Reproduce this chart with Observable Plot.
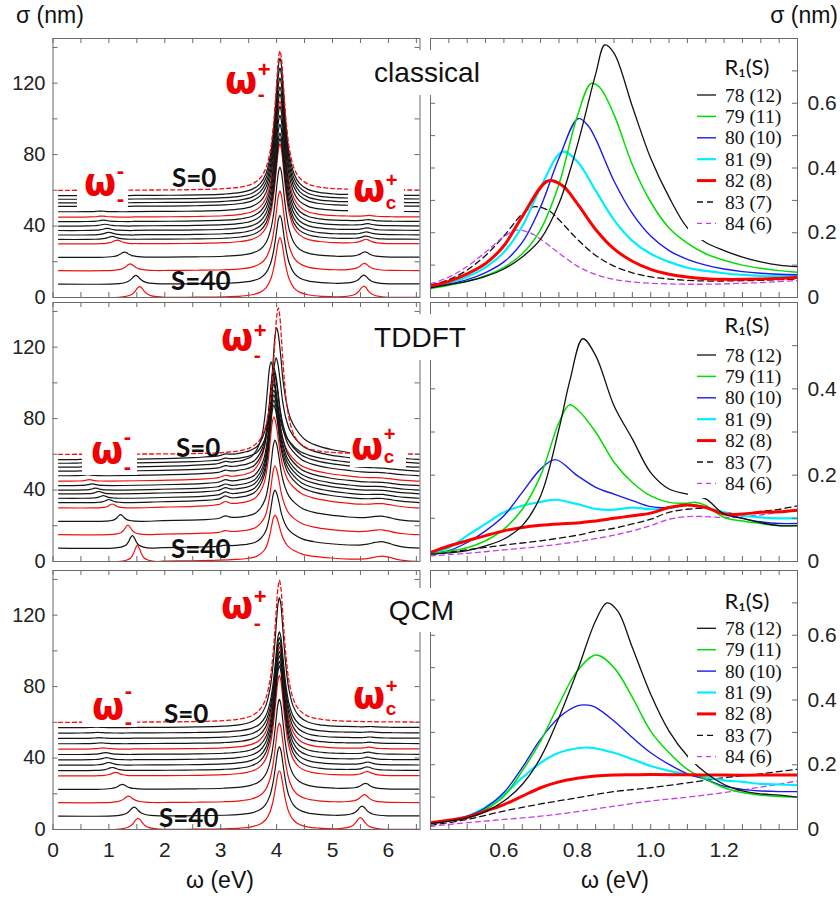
<!DOCTYPE html>
<html><head><meta charset="utf-8">
<script src="https://cdn.jsdelivr.net/npm/d3@7"></script>
<script src="https://cdn.jsdelivr.net/npm/@observablehq/plot@0.6"></script>
<style>
html,body{margin:0;padding:0;background:#fff;}
#wrap{position:relative;width:840px;height:900px;overflow:hidden;background:#fff;}
#overlay{position:absolute;left:0;top:0;z-index:10;}
</style></head><body><div id="wrap"></div>
<script>
// ---------------- DATA ----------------
// Left column: stacked spectra, one entry per curve (top S=0 curve first)
const classicalBase   = [60, 57, 55, 53, 51, 48, 45, 42.5, 40, 37.5, 35, 32.5, 30, 22.5, 15, 7.5, 0];
const classicalColor  = ["dash","k","k","k","k","k","r","k","k","k","k","k","r","k","r","k","r"];
const classicalMainPos = [4.06,4.06,4.06,4.06,4.06,4.06,4.06,4.06,4.06,4.06,4.06,4.06,4.06,4.06,4.06,4.06,4.06];
const classicalMainAmp = [78, 77, 73.5, 70, 67, 66, 65, 64.5, 62, 59.5, 57, 56.5, 56, 50.5, 44.5, 38.5, 33.5];
const classicalLowPos  = [0, 0.8, 0.8, 0.82, 0.84, 0.85, 0.87, 0.9, 0.93, 0.97, 1.0, 1.06, 1.15, 1.28, 1.38, 1.48, 1.55];
const classicalLowAmp  = [0, 0.2, 0.2, 0.3, 0.3, 0.4, 0.6, 0.8, 1.0, 1.2, 1.5, 1.7, 2.1, 2.9, 3.8, 4.8, 6.0];
const classicalHighPos = [0, 5.7, 5.7, 5.68, 5.67, 5.66, 5.65, 5.64, 5.63, 5.62, 5.61, 5.6, 5.6, 5.58, 5.57, 5.56, 5.56];
const classicalHighAmp = [0, 0.2, 0.3, 0.3, 0.4, 0.5, 0.6, 0.8, 1.0, 1.2, 1.4, 1.6, 2.3, 2.8, 3.9, 4.8, 6.2];

const tddftBase   = [60, 57, 55, 52.8, 50.6, 48, 45, 42.5, 40, 37.9, 35.4, 33, 30, 22.5, 15, 7.5, 0];
const tddftColor  = ["dash","k","k","k","k","k","r","k","k","k","k","k","r","k","r","k","r"];
const tddftMainPos = [4.03, 4.0, 3.99, 3.9, 3.95, 3.95, 3.93, 3.95, 3.95, 3.95, 3.95, 3.95, 3.95, 3.97, 3.97, 3.97, 3.97];
const tddftMainAmp = [82, 74, 59, 59, 57.5, 58, 57, 56.8, 56, 55.4, 55, 54.6, 51, 45.5, 38.6, 32.5, 26];
const tddftLowPos  = [0, 0.55, 0.55, 0.58, 0.6, 0.62, 0.65, 0.7, 0.76, 0.82, 0.9, 1.0, 1.06, 1.21, 1.34, 1.42, 1.51];
const tddftLowAmp  = [0, 0.3, 0.3, 0.4, 0.5, 0.6, 0.8, 1.0, 1.1, 1.3, 1.5, 1.7, 2.2, 3.7, 5.4, 7.0, 9.0];
const tddftMidPos  = [0, 3.08, 3.08, 3.08, 3.08, 3.08, 3.08, 3.08, 3.08, 3.08, 3.08, 3.08, 3.08, 3.08, 3.08, 3.08, 0];
const tddftMidAmp  = [0, 0.8, 0.9, 1.0, 1.0, 1.1, 1.2, 1.3, 1.4, 1.5, 1.6, 1.8, 1.8, 1.5, 1.0, 0.5, 0];
const tddftHighPos = [0, 5.92, 5.92, 5.92, 5.92, 5.92, 5.9, 5.9, 5.9, 5.9, 5.9, 5.9, 5.9, 5.88, 5.88, 5.88, 5.9];
const tddftHighAmp = [0, 0.5, 0.6, 0.6, 0.7, 0.7, 0.8, 0.8, 0.9, 1.0, 1.2, 1.3, 1.5, 2.0, 2.0, 3.0, 2.5];

const qcmBase   = [60, 57, 54, 51, 48, 45, 42, 39, 36, 33, 30, 22.5, 15, 7.5, 0];
const qcmColor  = ["dash","k","k","k","k","r","k","k","k","k","r","k","r","k","r"];
const qcmMainPos = [4.05,4.05,4.05,4.05,4.05,4.05,4.05,4.05,4.05,4.05,4.05,4.05,4.05,4.05,4.05];
const qcmMainAmp = [79.5, 72.8, 56.7, 56.5, 56.7, 57.2, 57.8, 58.2, 58.2, 58.6, 56.3, 50.3, 44.6, 38.9, 32.9];
const qcmLowPos  = [0, 0.78, 0.8, 0.83, 0.86, 0.9, 0.94, 0.96, 1.0, 1.06, 1.12, 1.24, 1.35, 1.45, 1.52];
const qcmLowAmp  = [0, 0.3, 0.35, 0.4, 0.5, 0.7, 1.0, 1.2, 1.5, 1.7, 2.0, 2.8, 3.7, 5.0, 6.2];
const qcmHighPos = [0, 5.68, 5.68, 5.67, 5.66, 5.65, 5.64, 5.63, 5.63, 5.62, 5.62, 5.59, 5.57, 5.53, 5.5];
const qcmHighAmp = [0, 0.3, 0.4, 0.5, 0.6, 0.8, 1.0, 1.2, 1.5, 1.8, 2.2, 3.1, 4.3, 5.4, 6.5];

// Peak shapes: [offset from peak centre (eV), fraction of peak height]
const sharpPeakShape = [[-2.6,0.0018],[-2.0,0.003],[-1.5,0.0055],[-1.0,0.012],[-0.7,0.024],[-0.5,0.046],[-0.35,0.09],[-0.25,0.162],[-0.17,0.295],[-0.12,0.457],[-0.08,0.654],[-0.05,0.829],[-0.025,0.951],[0,1],[0.025,0.951],[0.05,0.829],[0.08,0.654],[0.12,0.457],[0.17,0.295],[0.25,0.162],[0.35,0.09],[0.5,0.046],[0.7,0.024],[1.0,0.012],[1.5,0.0055],[2.0,0.003],[2.6,0.0018]];
const broadPeakShape = [[-2.0,0.008],[-1.5,0.015],[-1.0,0.028],[-0.7,0.045],[-0.5,0.065],[-0.35,0.1],[-0.25,0.17],[-0.17,0.28],[-0.11,0.48],[-0.06,0.76],[-0.03,0.93],[0,1],[0.03,0.95],[0.07,0.8],[0.12,0.58],[0.18,0.42],[0.25,0.31],[0.35,0.23],[0.5,0.155],[0.7,0.11],[1.0,0.075],[1.5,0.04],[2.0,0.015],[2.6,0]];
const bumpShape = [[-0.45,0],[-0.3,0.06],[-0.2,0.16],[-0.13,0.33],[-0.08,0.58],[-0.04,0.86],[0,1],[0.04,0.86],[0.08,0.58],[0.13,0.33],[0.2,0.16],[0.3,0.06],[0.45,0]];
const narrowBumpShape = [[-0.35,0],[-0.2,0.08],[-0.12,0.22],[-0.07,0.5],[-0.035,0.82],[0,1],[0.035,0.82],[0.07,0.5],[0.12,0.22],[0.2,0.08],[0.35,0]];
const wideBumpShape = [[-0.6,0],[-0.4,0.12],[-0.25,0.38],[-0.12,0.78],[0,1],[0.12,0.78],[0.25,0.38],[0.4,0.12],[0.6,0]];

// Right column: sigma (nm) vs omega (eV) for R1 = 78..84
const seriesNames = ["78 (12)","79 (11)","80 (10)","81 (9)","82 (8)","83 (7)","84 (6)"];
const cl78 = [[0.40,0.03],[0.45,0.04],[0.50,0.05],[0.55,0.065],[0.60,0.088],[0.65,0.125],[0.70,0.18],[0.75,0.29],[0.80,0.47],[0.85,0.69],[0.875,0.78],[0.90,0.755],[0.95,0.59],[1.00,0.43],[1.05,0.31],[1.10,0.215],[1.15,0.17],[1.20,0.145],[1.25,0.125],[1.30,0.11],[1.35,0.10],[1.40,0.095]];
const cl79 = [[0.40,0.028],[0.45,0.038],[0.50,0.05],[0.55,0.067],[0.60,0.093],[0.65,0.135],[0.70,0.21],[0.75,0.35],[0.80,0.56],[0.8375,0.661],[0.86,0.65],[0.90,0.565],[0.95,0.41],[1.00,0.295],[1.05,0.215],[1.10,0.168],[1.15,0.135],[1.20,0.115],[1.25,0.10],[1.30,0.09],[1.35,0.083],[1.40,0.078]];
const cl80 = [[0.40,0.03],[0.45,0.041],[0.50,0.055],[0.55,0.077],[0.60,0.11],[0.65,0.17],[0.70,0.28],[0.75,0.43],[0.803,0.553],[0.83,0.53],[0.85,0.49],[0.90,0.36],[0.95,0.26],[1.00,0.19],[1.05,0.145],[1.10,0.118],[1.15,0.10],[1.20,0.088],[1.25,0.08],[1.30,0.075],[1.35,0.072],[1.40,0.07]];
const cl81 = [[0.40,0.032],[0.45,0.045],[0.50,0.064],[0.55,0.093],[0.60,0.14],[0.65,0.22],[0.70,0.34],[0.76,0.45],[0.80,0.42],[0.85,0.33],[0.90,0.24],[0.95,0.175],[1.00,0.135],[1.05,0.11],[1.10,0.092],[1.15,0.082],[1.20,0.075],[1.25,0.07],[1.30,0.067],[1.35,0.066],[1.40,0.066]];
const cl82 = [[0.40,0.035],[0.45,0.05],[0.50,0.073],[0.55,0.105],[0.60,0.16],[0.65,0.25],[0.72,0.36],[0.76,0.345],[0.80,0.29],[0.85,0.21],[0.90,0.15],[0.95,0.112],[1.00,0.087],[1.05,0.072],[1.10,0.063],[1.15,0.058],[1.20,0.056],[1.25,0.056],[1.30,0.057],[1.35,0.059],[1.40,0.062]];
const cl83 = [[0.40,0.038],[0.45,0.055],[0.50,0.085],[0.55,0.13],[0.60,0.19],[0.65,0.258],[0.68,0.28],[0.72,0.27],[0.75,0.24],[0.80,0.18],[0.85,0.13],[0.90,0.097],[0.95,0.076],[1.00,0.064],[1.05,0.057],[1.10,0.053],[1.15,0.051],[1.20,0.051],[1.25,0.052],[1.30,0.053],[1.35,0.055],[1.40,0.057]];
const cl84 = [[0.40,0.042],[0.45,0.063],[0.50,0.096],[0.55,0.14],[0.60,0.188],[0.634,0.208],[0.67,0.2],[0.70,0.18],[0.75,0.137],[0.80,0.097],[0.85,0.071],[0.90,0.056],[0.95,0.048],[1.00,0.044],[1.05,0.042],[1.10,0.041],[1.15,0.041],[1.20,0.042],[1.25,0.044],[1.30,0.046],[1.35,0.049],[1.40,0.052]];

const td78 = [[0.40,0.017],[0.45,0.02],[0.50,0.025],[0.55,0.036],[0.60,0.052],[0.65,0.083],[0.70,0.152],[0.75,0.307],[0.78,0.42],[0.815,0.516],[0.85,0.477],[0.90,0.361],[0.95,0.284],[1.00,0.206],[1.05,0.168],[1.10,0.156],[1.15,0.145],[1.20,0.11],[1.25,0.10],[1.30,0.09],[1.35,0.083],[1.40,0.083]];
const td79 = [[0.40,0.017],[0.45,0.024],[0.50,0.032],[0.55,0.048],[0.60,0.075],[0.65,0.121],[0.70,0.199],[0.75,0.322],[0.779,0.363],[0.80,0.352],[0.85,0.30],[0.90,0.23],[0.95,0.183],[1.00,0.152],[1.05,0.137],[1.10,0.135],[1.12,0.137],[1.15,0.13],[1.20,0.102],[1.25,0.094],[1.30,0.088],[1.35,0.083],[1.40,0.083]];
const td80 = [[0.40,0.017],[0.45,0.025],[0.50,0.044],[0.55,0.071],[0.60,0.106],[0.65,0.16],[0.70,0.214],[0.74,0.236],[0.80,0.199],[0.85,0.172],[0.90,0.156],[0.95,0.141],[1.00,0.127],[1.05,0.125],[1.10,0.131],[1.15,0.125],[1.20,0.11],[1.25,0.10],[1.30,0.092],[1.35,0.088],[1.40,0.088]];
const td81 = [[0.40,0.018],[0.45,0.032],[0.50,0.06],[0.55,0.087],[0.60,0.114],[0.65,0.129],[0.70,0.138],[0.74,0.143],[0.80,0.133],[0.85,0.122],[0.90,0.12],[0.95,0.125],[1.00,0.121],[1.05,0.124],[1.10,0.131],[1.15,0.125],[1.20,0.114],[1.25,0.106],[1.30,0.102],[1.35,0.10],[1.40,0.10]];
const td82 = [[0.40,0.021],[0.45,0.036],[0.50,0.048],[0.55,0.06],[0.60,0.071],[0.65,0.079],[0.70,0.084],[0.75,0.087],[0.80,0.089],[0.85,0.094],[0.90,0.10],[0.95,0.106],[1.00,0.112],[1.05,0.125],[1.10,0.131],[1.15,0.125],[1.20,0.11],[1.25,0.11],[1.30,0.114],[1.35,0.115],[1.40,0.119]];
const td83 = [[0.40,0.017],[0.50,0.027],[0.60,0.038],[0.70,0.048],[0.80,0.061],[0.85,0.07],[0.90,0.077],[0.95,0.087],[1.00,0.098],[1.05,0.114],[1.10,0.121],[1.15,0.123],[1.20,0.114],[1.25,0.11],[1.30,0.116],[1.35,0.121],[1.40,0.129]];
const td84 = [[0.40,0.013],[0.50,0.019],[0.60,0.027],[0.70,0.035],[0.80,0.046],[0.90,0.061],[0.95,0.071],[1.00,0.083],[1.05,0.098],[1.10,0.104],[1.15,0.104],[1.20,0.102],[1.25,0.104],[1.30,0.108],[1.35,0.114],[1.40,0.118]];

const qc78 = [[0.40,0.018],[0.45,0.026],[0.50,0.036],[0.55,0.055],[0.60,0.088],[0.65,0.139],[0.70,0.222],[0.75,0.346],[0.80,0.49],[0.85,0.645],[0.881,0.70],[0.91,0.675],[0.95,0.562],[1.00,0.418],[1.05,0.304],[1.10,0.227],[1.15,0.175],[1.20,0.139],[1.25,0.119],[1.30,0.11],[1.35,0.106],[1.40,0.10]];
const qc79 = [[0.40,0.018],[0.45,0.027],[0.50,0.038],[0.55,0.062],[0.60,0.103],[0.65,0.181],[0.70,0.273],[0.75,0.387],[0.80,0.49],[0.851,0.539],[0.90,0.50],[0.95,0.408],[1.00,0.304],[1.05,0.237],[1.10,0.186],[1.15,0.155],[1.20,0.129],[1.25,0.114],[1.30,0.106],[1.35,0.102],[1.40,0.10]];
const qc80 = [[0.40,0.018],[0.45,0.028],[0.50,0.041],[0.55,0.067],[0.60,0.114],[0.65,0.191],[0.70,0.279],[0.75,0.346],[0.80,0.382],[0.83,0.384],[0.85,0.377],[0.90,0.335],[0.95,0.284],[1.00,0.237],[1.05,0.201],[1.10,0.172],[1.15,0.155],[1.20,0.134],[1.25,0.124],[1.30,0.119],[1.35,0.117],[1.40,0.117]];
const qc81 = [[0.40,0.018],[0.45,0.028],[0.50,0.041],[0.55,0.069],[0.60,0.108],[0.65,0.16],[0.70,0.206],[0.75,0.237],[0.80,0.251],[0.833,0.253],[0.90,0.237],[0.95,0.217],[1.00,0.196],[1.05,0.181],[1.10,0.17],[1.15,0.16],[1.20,0.152],[1.25,0.147],[1.30,0.141],[1.35,0.139],[1.40,0.137]];
const qc82 = [[0.40,0.021],[0.45,0.029],[0.50,0.038],[0.55,0.057],[0.60,0.077],[0.65,0.103],[0.70,0.129],[0.75,0.147],[0.80,0.158],[0.85,0.165],[0.90,0.168],[0.95,0.169],[1.00,0.17],[1.10,0.169],[1.20,0.168],[1.30,0.168],[1.40,0.168]];
const qc83 = [[0.40,0.013],[0.50,0.031],[0.60,0.057],[0.70,0.079],[0.80,0.098],[0.90,0.117],[1.00,0.129],[1.10,0.144],[1.20,0.16],[1.30,0.172],[1.40,0.186]];
const qc84 = [[0.40,0.01],[0.50,0.021],[0.60,0.031],[0.70,0.041],[0.80,0.055],[0.90,0.072],[1.00,0.088],[1.10,0.10],[1.20,0.114],[1.30,0.131],[1.40,0.15]];

// Tick values and labels
const leftXTicks = [0,0.5,1,1.5,2,2.5,3,3.5,4,4.5,5,5.5,6,6.5];
const leftXLabels = [0,1,2,3,4,5,6];
const leftYTicks = [0,20,40,60,80,100,120,140];
const leftYLabels = [0,40,80,120];
const rightXTicks = [0.4,0.45,0.5,0.55,0.6,0.65,0.7,0.75,0.8,0.85,0.9,0.95,1.0,1.05,1.1,1.15,1.2,1.25,1.3,1.35,1.4];
const rightXLabels = [0.6,0.8,1.0,1.2];
const rightYTicks = [0,0.1,0.2,0.3,0.4,0.5,0.6,0.7,0.8];
const rightYLabelsWide = [0,0.2,0.4,0.6];
const rightYLabelsTDDFT = [0,0.2,0.4];

// ---------------- STYLE / LAYOUT ----------------
const seriesColor = ["#111111","#00dd00","#1a1aee","#00eeff","#ff0000","#111111","#c83cee"];
const seriesWidth = [1.3,1.5,1.4,2.2,3.0,1.3,1.3];
const seriesDash  = [null,null,null,null,null,"6,4","5,4"];
const RED = "#f01010", BLACK = "#151515", FRAMEC = "#6a6a6a";
const rowTop = [38, 302, 570], frameH = 259, frameW = 367;
const wrap = document.getElementById("wrap");
const baseStyle = {background:"transparent", fontFamily:"'Liberation Sans', Arial, sans-serif", fontSize:"20px", color:"#222", overflow:"visible"};

function lookup(t, dx) {
  if (dx < t[0][0] || dx > t[t.length-1][0]) return 0;
  let i = 1; while (i < t.length - 1 && t[i][0] < dx) i++;
  const [xa, ya] = t[i-1], [xb, yb] = t[i];
  return xb === xa ? ya : ya + (yb - ya) * (dx - xa) / (xb - xa);
}
function buildCurve(x0, x1, base, comps) {
  const xs = [x0, x1];
  for (const c of comps) if (c.a > 0) for (const [dx] of c.p) { const x = c.c + dx; if (x > x0 && x < x1) xs.push(x); }
  xs.sort((a, b) => a - b);
  const out = [];
  for (const x of xs) {
    if (out.length && x - out[out.length-1].x < 0.004) continue;
    let y = base;
    for (const c of comps) if (c.a > 0) y += c.a * lookup(c.p, x - c.c);
    out.push({x, y});
  }
  return out;
}
function place(svg, left, top) {
  svg.style.position = "absolute"; svg.style.left = left + "px"; svg.style.top = top + "px";
  svg.style.maxWidth = "none";
  wrap.appendChild(svg);
}

function leftPanel(row, curves, colors, showX) {
  const mT = 10, mB = showX ? 45 : 10, mL = 52.5, mR = 5.5;
  const groups = {k: [], r: [], dash: []};
  curves.forEach((pts, i) => pts.forEach(p => groups[colors[i]].push({...p, id: i})));
  const lineOpts = {x: "x", y: "y", z: "id", curve: "catmull-rom", clip: true};
  const marks = [
    Plot.line(groups.r, {...lineOpts, stroke: RED, strokeWidth: 1.2}),
    Plot.line(groups.k, {...lineOpts, stroke: BLACK, strokeWidth: 1.2}),
    Plot.line(groups.dash, {...lineOpts, stroke: RED, strokeWidth: 1.3, strokeDasharray: "4,3"}),
    Plot.frame({stroke: FRAMEC}),
    Plot.tickY(leftYTicks, {y: d => d, insetRight: frameW - 5, stroke: FRAMEC}),
    Plot.tickY(leftYTicks, {y: d => d, insetLeft: frameW - 5, stroke: FRAMEC}),
    Plot.tickX(leftXTicks, {x: d => d, insetTop: frameH - 5, stroke: FRAMEC}),
    Plot.tickX(leftXTicks, {x: d => d, insetBottom: frameH - 5, stroke: FRAMEC}),
    Plot.axisY({anchor: "left", ticks: leftYLabels, tickSize: 0, tickPadding: 7.5, label: null, fontSize: 20, fill: "#222", tickFormat: d => String(d)})
  ];
  if (showX) marks.push(Plot.axisX({anchor: "bottom", ticks: leftXLabels, tickSize: 0, tickPadding: 13, label: null, fontSize: 21, fill: "#222", tickFormat: d => String(d)}));
  const svg = Plot.plot({
    width: mL + frameW + mR, height: mT + frameH + mB,
    marginTop: mT, marginBottom: mB, marginLeft: mL, marginRight: mR,
    x: {domain: [0, 6.565], label: null, ...(showX ? {} : {axis: null})},
    y: {domain: [0, 145], label: null},
    style: baseStyle, marks
  });
  place(svg, 0, rowTop[row] - mT);
}

function rightPanel(row, series, yMax, yLabels, showX) {
  const mT = 10, mB = showX ? 45 : 10, mL = 10, mR = 43;
  const marks = [];
  const order = [5, 6, 3, 2, 1, 4, 0];
  for (const i of order) {
    marks.push(Plot.line(series[i], {x: d => d[0], y: d => d[1], stroke: seriesColor[i], strokeWidth: seriesWidth[i],
      strokeDasharray: seriesDash[i] || undefined, curve: "catmull-rom", clip: true}));
  }
  const yt = rightYTicks.filter(v => v <= yMax + 1e-9);
  marks.push(
    Plot.frame({stroke: FRAMEC}),
    Plot.tickY(yt, {y: d => d, insetRight: frameW - 5, stroke: FRAMEC}),
    Plot.tickY(yt, {y: d => d, insetLeft: frameW - 5, stroke: FRAMEC}),
    Plot.tickX(rightXTicks, {x: d => d, insetTop: frameH - 5, stroke: FRAMEC}),
    Plot.tickX(rightXTicks, {x: d => d, insetBottom: frameH - 5, stroke: FRAMEC}),
    Plot.axisY({anchor: "right", ticks: yLabels, tickSize: 0, tickPadding: 10, label: null, fontSize: 21, fill: "#222",
      tickFormat: d => d === 0 ? "0" : d.toFixed(1)})
  );
  if (showX) marks.push(Plot.axisX({anchor: "bottom", ticks: rightXLabels, tickSize: 0, tickPadding: 13, label: null, fontSize: 21, fill: "#222",
      tickFormat: d => d.toFixed(1)}));
  const svg = Plot.plot({
    width: mL + frameW + mR, height: mT + frameH + mB,
    marginTop: mT, marginBottom: mB, marginLeft: mL, marginRight: mR,
    x: {domain: [0.4, 1.4], label: null, ...(showX ? {} : {axis: null})},
    y: {domain: [0, yMax], label: null},
    style: baseStyle, marks
  });
  place(svg, 430 - mL, rowTop[row] - mT);
}

// ----- build left curves -----
const X0 = 0.1, X1 = 6.565;
const classicalCurves = classicalBase.map((b, i) => buildCurve(X0, X1, b, [
  {c: classicalMainPos[i], a: classicalMainAmp[i], p: sharpPeakShape},
  {c: classicalLowPos[i], a: classicalLowAmp[i], p: bumpShape},
  {c: classicalHighPos[i], a: classicalHighAmp[i], p: bumpShape}]));
const tddftCurves = tddftBase.map((b, i) => buildCurve(X0, X1, b, [
  {c: tddftMainPos[i], a: tddftMainAmp[i], p: i === 0 ? sharpPeakShape : broadPeakShape},
  {c: tddftLowPos[i], a: tddftLowAmp[i], p: narrowBumpShape},
  {c: tddftMidPos[i], a: tddftMidAmp[i], p: narrowBumpShape},
  {c: tddftHighPos[i], a: tddftHighAmp[i], p: wideBumpShape}]));
const qcmCurves = qcmBase.map((b, i) => buildCurve(X0, X1, b, [
  {c: qcmMainPos[i], a: qcmMainAmp[i], p: sharpPeakShape},
  {c: qcmLowPos[i], a: qcmLowAmp[i], p: bumpShape},
  {c: qcmHighPos[i], a: qcmHighAmp[i], p: bumpShape}]));

leftPanel(0, classicalCurves, classicalColor, false);
leftPanel(1, tddftCurves, tddftColor, false);
leftPanel(2, qcmCurves, qcmColor, true);
rightPanel(0, [cl78, cl79, cl80, cl81, cl82, cl83, cl84], 0.8, rightYLabelsWide, false);
rightPanel(1, [td78, td79, td80, td81, td82, td83, td84], 0.6, rightYLabelsTDDFT, false);
rightPanel(2, [qc78, qc79, qc80, qc81, qc82, qc83, qc84], 0.8, rightYLabelsWide, true);

// ---------------- overlay: labels, annotations, legends ----------------
const ov = [];
const rect = (x, y, w, h) => ov.push(`<rect x="${x}" y="${y}" width="${w}" height="${h}" fill="#fff"/>`);
const text = (x, y, s, st, anchor, cls) => ov.push(`<text ${cls ? `class="${cls}"` : ""} x="${x}" y="${y}" text-anchor="${anchor || "start"}" style="${st}">${s}</text>`);
const OM = "font-weight:bold;font-size:37px;font-family:'DejaVu Sans',sans-serif;fill:#f00000";
const SP = sz => `font-weight:bold;font-size:${sz}px;font-family:'Liberation Sans',Arial,sans-serif;fill:#f00000`;
const SL = "font:bold 26px Lato,'Open Sans',sans-serif;fill:#111";
const PN = "font:28px 'Liberation Sans',Arial,sans-serif;fill:#111";
const AX = "font:23px 'Liberation Sans',Arial,sans-serif;fill:#111";
const LT = "font:22px Lato,'Open Sans',sans-serif;fill:#111";
const LI = "font:19.5px 'Liberation Serif','Times New Roman',serif;fill:#111";

// white boxes
rect(362, 50, 131, 45); rect(366, 314, 117, 46); rect(380, 588, 90, 44);
rect(77, 163, 51, 44); rect(82, 428, 55, 47); rect(82, 683, 55, 44);
rect(348, 172, 56, 41); rect(350, 422, 56, 45); rect(350, 675, 56, 45);
rect(688, 50, 100, 190); rect(688, 312, 100, 186); rect(688, 585, 100, 179);

// axis titles
text(16, 23, "σ (nm)", AX); text(838, 23, "σ (nm)", AX, "end");
text(220, 888, "ω (eV)", AX, "middle"); text(615, 888, "ω (eV)", AX, "middle");

// panel names
text(427, 82, "classical", PN, "middle");
text(420, 347, "TDDFT", PN, "middle");
text(421.5, 620, "QCM", PN, "middle");

// omega annotations: [ω x, ω baseline, sup baseline, sub baseline, sup, sub, sup size, sub size]
const annos = [
  [225, 93, 76.5, 101, "+", "-", 22, 21], [84, 195, 177.5, 206, "-", "-", 22, 22], [353, 201, 187, 209, "+", "c", 20, 19],
  [221, 350, 338, 362, "+", "-", 22, 21], [91, 463, 444, 474, "-", "-", 22, 22], [351, 459, 441, 463, "+", "c", 20, 19],
  [221, 618, 603.5, 630, "+", "-", 22, 21], [92, 719, 697.5, 729, "-", "-", 22, 22], [353, 708, 693, 715, "+", "c", 20, 19]
];
annos.forEach((a, k) => {
  text(a[0], a[1], "ω", OM, "start", `om om${k}`);
  text(a[0] + 30, a[2], a[4], SP(a[6]), "start", `ss ss${k}`);
  text(a[0] + 30, a[3], a[5], SP(a[7]), "start", `ss ss${k}`);
});

// S labels
text(172, 187, "S=0", SL); text(171, 290, "S=40", SL);
text(176, 457, "S=0", SL); text(171, 558, "S=40", SL);
text(164, 723, "S=0", SL); text(159, 827, "S=40", SL);

// legends
const legTitleY = [68, 326, 601.7], legFirstY = [95, 355, 628.3];
for (let r = 0; r < 3; r++) {
  text(747, legTitleY[r] + 7, "R₁(S)", LT, "middle");
  seriesNames.forEach((nm, i) => {
    const yc = legFirstY[r] + i * 21.4;
    ov.push(`<line x1="697" x2="716" y1="${yc}" y2="${yc}" stroke="${seriesColor[i]}" stroke-width="${seriesWidth[i]}" ${seriesDash[i] ? `stroke-dasharray="${seriesDash[i]}"` : ""}/>`);
    text(725, yc + 6.5, nm, LI);
  });
}
const overlay = document.createElementNS("http://www.w3.org/2000/svg", "svg");
overlay.setAttribute("id", "overlay"); overlay.setAttribute("width", 840); overlay.setAttribute("height", 900);
overlay.innerHTML = ov.join("");
wrap.appendChild(overlay);
// put the super/subscripts right after the measured width of each ω
annos.forEach((a, k) => {
  const om = overlay.querySelector(`.om${k}`);
  const w = om.getComputedTextLength();
  overlay.querySelectorAll(`.ss${k}`).forEach(t => t.setAttribute("x", a[0] + w + 0.5));
});
</script></body></html>
